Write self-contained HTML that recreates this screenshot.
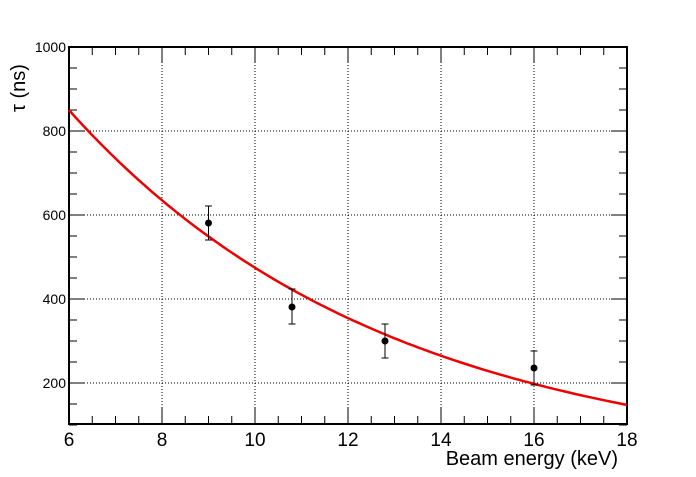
<!DOCTYPE html>
<html><head><meta charset="utf-8"><style>body{margin:0;background:#fff}</style></head><body>
<svg width="696" height="472" xmlns="http://www.w3.org/2000/svg" font-family="Liberation Sans, sans-serif">
<rect width="696" height="472" fill="#fff"/>
<g stroke="#000" stroke-width="1" stroke-dasharray="1,2">
<line x1="162" y1="47" x2="162" y2="424"/><line x1="255" y1="47" x2="255" y2="424"/><line x1="348" y1="47" x2="348" y2="424"/><line x1="441" y1="47" x2="441" y2="424"/><line x1="534" y1="47" x2="534" y2="424"/>
<line x1="69" y1="383" x2="627" y2="383"/><line x1="69" y1="299" x2="627" y2="299"/><line x1="69" y1="215" x2="627" y2="215"/><line x1="69" y1="131" x2="627" y2="131"/>
</g>
<g id="t" stroke="#000" stroke-width="1"></g>
<rect x="69" y="47" width="558" height="377" fill="none" stroke="#000" stroke-width="2"/>
<path id="curve" fill="none" stroke="#e00" stroke-width="2.5"/>
<g stroke="#000" stroke-width="1">
<line x1="208.5" y1="206" x2="208.5" y2="240"/><line x1="292" y1="289" x2="292" y2="324"/><line x1="385" y1="324" x2="385" y2="358"/><line x1="534" y1="351" x2="534" y2="385"/>
<line x1="205" y1="206" x2="212" y2="206"/><line x1="205" y1="240" x2="212" y2="240"/>
<line x1="288.5" y1="289" x2="295.5" y2="289"/><line x1="288.5" y1="324" x2="295.5" y2="324"/>
<line x1="381.5" y1="324" x2="388.5" y2="324"/><line x1="381.5" y1="358" x2="388.5" y2="358"/>
<line x1="530.5" y1="351" x2="537.5" y2="351"/><line x1="530.5" y1="385" x2="537.5" y2="385"/>
</g>
<g fill="#000"><circle cx="208.5" cy="223" r="3.5"/><circle cx="292" cy="307" r="3.5"/><circle cx="385" cy="341" r="3.5"/><circle cx="534" cy="368" r="3.5"/></g>
<g font-size="14" text-anchor="end"><text x="66" y="52">1000</text><text x="66" y="136">800</text><text x="66" y="220">600</text><text x="66" y="304">400</text><text x="66" y="388">200</text></g>
<g font-size="19" text-anchor="middle"><text x="69" y="446">6</text><text x="162" y="446">8</text><text x="255" y="446">10</text><text x="348" y="446">12</text><text x="441" y="446">14</text><text x="534" y="446">16</text><text x="627" y="446">18</text></g>
<text x="618" y="465" font-size="20" text-anchor="end">Beam energy (keV)</text>
<text transform="translate(25,112) rotate(-90)" font-size="20">τ (ns)</text>
</svg>
<script>
var g=document.getElementById('t'),s='';
function L(a,b,c,d){s+='<line x1="'+a+'" y1="'+b+'" x2="'+c+'" y2="'+d+'"/>';}
for(var i=0;i<=24;i++){var x=69+i*23.25,l=(i%4==0)?16:8;L(x,424,x,424-l);L(x,47,x,47+l);}
for(var v=100;v<=1000;v+=50){var y=467-v*0.42,l=(v%200==0)?16:8;L(69,y,69+l,y);L(627,y,627-l,y);}
g.innerHTML=s;
var p='';for(var e=6;e<=18.001;e+=0.1){var v=850*Math.exp(-0.1457*(e-6));p+=(p?'L':'M')+(69+(e-6)*46.5).toFixed(1)+','+(467-v*0.42).toFixed(1);}
document.getElementById('curve').setAttribute('d',p);
</script>
</body></html>
